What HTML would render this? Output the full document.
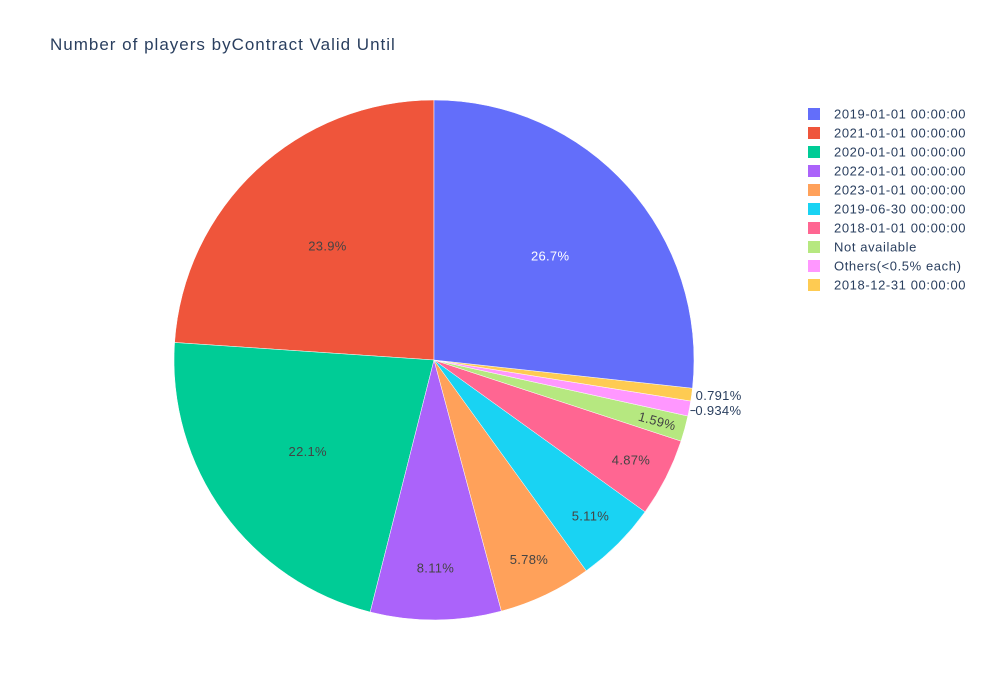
<!DOCTYPE html>
<html><head><meta charset="utf-8"><style>
body{margin:0;background:#fff;}
svg{display:block;font-family:"Liberation Sans",Arial,sans-serif;}
</style></head><body>
<svg id="chart" width="983" height="700" viewBox="0 0 983 700">
<rect width="983" height="700" fill="#fff"/>
<text x="50" y="50" font-size="17" letter-spacing="1" fill="#2a3f5f">Number of players byContract Valid Until</text>
<g id="slices"></g><g id="labels"></g><g id="legend"></g>
</svg>
<script>
const categories = ["2019-01-01 00:00:00","2021-01-01 00:00:00","2020-01-01 00:00:00","2022-01-01 00:00:00","2023-01-01 00:00:00","2019-06-30 00:00:00","2018-01-01 00:00:00","Not available","Others(<0.5% each)","2018-12-31 00:00:00"];
const values = [26.7,23.9,22.1,8.11,5.78,5.11,4.87,1.59,0.934,0.791];
const valueLabels = ["26.7%","23.9%","22.1%","8.11%","5.78%","5.11%","4.87%","1.59%","0.934%","0.791%"];
const colors = ["#636efa","#EF553B","#00cc96","#ab63fa","#FFA15A","#19d3f3","#FF6692","#B6E880","#FF97FF","#FECB52"];

const NS="http://www.w3.org/2000/svg";
const cx=434, cy=360, R=260;
const total=values.reduce((a,b)=>a+b,0);
const sG=document.getElementById('slices'), lG=document.getElementById('labels'), gG=document.getElementById('legend');
function pt(a,r){return [cx+r*Math.cos(a), cy-r*Math.sin(a)];}
const order=[]; for(let i=1;i<values.length;i++)order.push(i); order.push(0);
let ang=Math.PI/2;
let outsideCount=0;
order.forEach(i=>{
  const sweep=values[i]/total*2*Math.PI;
  const a0=ang, a1=ang+sweep; ang=a1;
  const p0=pt(a0,R), p1=pt(a1,R);
  const path=document.createElementNS(NS,'path');
  path.setAttribute('d',`M${cx},${cy}L${p0[0]},${p0[1]}A${R},${R} 0 ${sweep>Math.PI?1:0} 0 ${p1[0]},${p1[1]}Z`);
  path.setAttribute('fill',colors[i]); path.setAttribute('stroke','#fff'); path.setAttribute('stroke-width','0.5');
  
  
  sG.appendChild(path);
  const mid=(a0+a1)/2, pct=values[i]/total*100;
  const t=document.createElementNS(NS,'text');
  t.setAttribute('font-size','13'); t.setAttribute('letter-spacing','0.3');
  t.setAttribute('text-anchor','middle'); t.setAttribute('dominant-baseline','central');
  t.textContent=valueLabels[i];
  if(pct<1){
    const e=pt(mid,R);
    outsideCount++;
    if(outsideCount===1){
      const ly=e[1]+2;
      const ln=document.createElementNS(NS,'line');
      ln.setAttribute('x1',e[0]+1);ln.setAttribute('y1',ly);ln.setAttribute('x2',e[0]+6);ln.setAttribute('y2',ly);
      ln.setAttribute('stroke','#2a3f5f');
      
      
      lG.appendChild(ln);
      t.setAttribute('x',e[0]+6); t.setAttribute('y',ly);
    } else {
      t.setAttribute('x',e[0]+4); t.setAttribute('y',e[1]+1);
    }
    t.setAttribute('text-anchor','start');
    t.setAttribute('fill','#2a3f5f');
  } else {
    const rf=pct>15?0.6:(pct<2?0.89:(pct>6?0.8:0.85));
    const p=pt(mid,R*rf);
    t.setAttribute('x',p[0]); t.setAttribute('y',p[1]);
    t.setAttribute('fill',i===0?'#fff':'#444');
    if(pct<2){ const deg=-(mid*180/Math.PI); t.setAttribute('transform',`rotate(${deg} ${p[0]} ${p[1]})`); }
  }
  
  
  lG.appendChild(t);
});
categories.forEach((c,i)=>{
  const g=document.createElementNS(NS,'g');
  
  
  const y=108+i*19;
  const r=document.createElementNS(NS,'rect');
  r.setAttribute('x',808);r.setAttribute('y',y);r.setAttribute('width',12);r.setAttribute('height',12);r.setAttribute('fill',colors[i]);
  
  
  const t=document.createElementNS(NS,'text');
  t.setAttribute('x',834);t.setAttribute('y',y+10.5);t.setAttribute('font-size','13');t.setAttribute('letter-spacing','0.6');t.setAttribute('fill','#2a3f5f');
  t.textContent=c;
  
  
  g.appendChild(r);g.appendChild(t);gG.appendChild(g);
});
</script>
</body></html>
